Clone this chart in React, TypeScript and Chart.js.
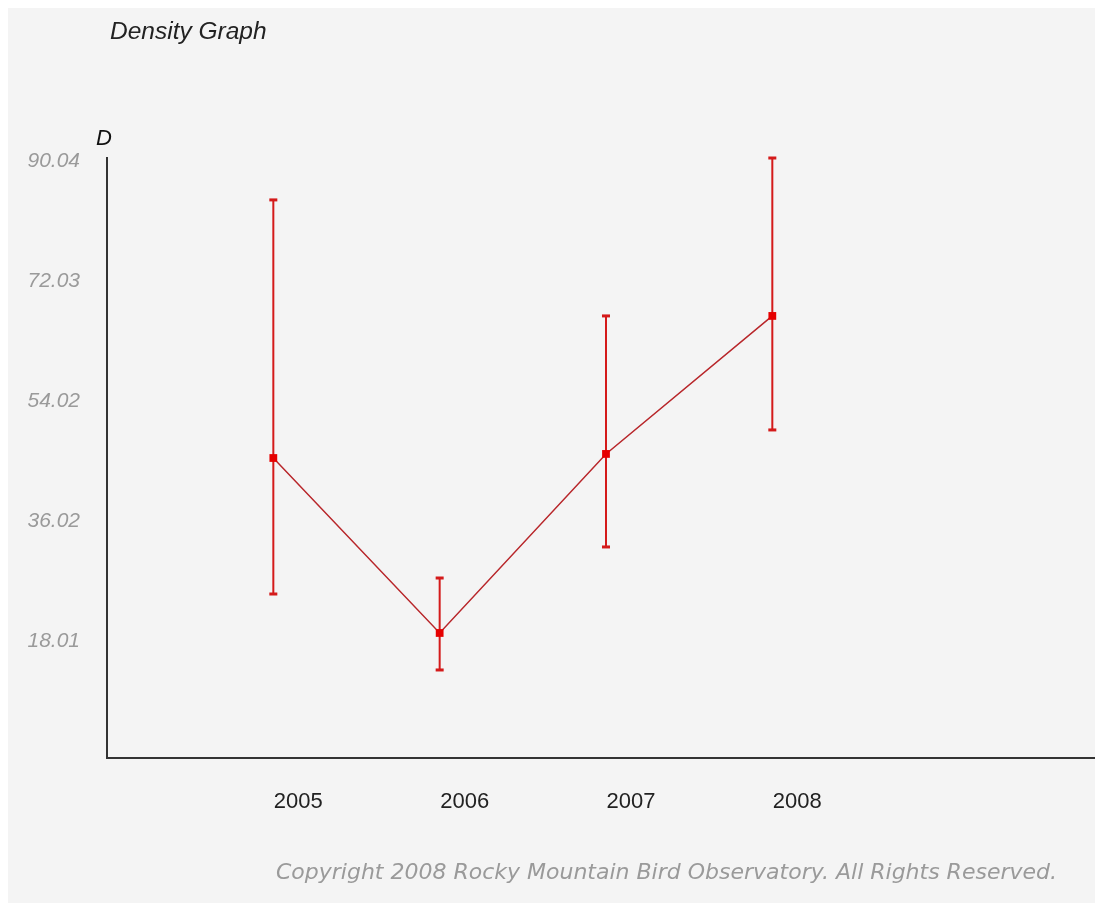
import React, { useEffect, useRef } from "react";
import { Chart, registerables } from "chart.js";

Chart.register(...registerables);

const years = ["2005", "2006", "2007", "2008"];
const density = [45.02, 18.76, 45.63, 66.34];
const upperCI = [83.75, 27.01, 66.34, 90.04];
const lowerCI = [24.61, 13.21, 31.67, 49.23];
const yTickValues = [18.01, 36.02, 54.02, 72.03, 90.04];
const yTickLabels = ["18.01", "36.02", "54.02", "72.03", "90.04"];

const titleText = "Density Graph";
const yAxisTitle = "D";
const copyrightText = "Copyright 2008 Rocky Mountain Bird Observatory. All Rights Reserved.";

const CANVAS_W = 1140;
const CANVAS_H = 940;

export default function App() {
  const ref = useRef<HTMLCanvasElement | null>(null);

  useEffect(() => {
    if (!ref.current) return;

    const errorBars = {
      id: "errorBars",
      beforeDatasetsDraw(chart: any) {
        const ctx = chart.ctx;
        const xs = chart.scales.x;
        const ys = chart.scales.y;
        ctx.save();
        ctx.strokeStyle = "#d41a1a";
        ctx.fillStyle = "#d41a1a";
        ctx.lineWidth = 2;
        for (let i = 0; i < years.length; i++) {
          const x = xs.getPixelForValue(i);
          const yt = ys.getPixelForValue(upperCI[i]);
          const yb = ys.getPixelForValue(lowerCI[i]);
          ctx.beginPath();
          ctx.moveTo(x, yt);
          ctx.lineTo(x, yb);
          ctx.stroke();
          ctx.fillRect(x - 4, yt - 1.5, 8, 3);
          ctx.fillRect(x - 4, yb - 1.5, 8, 3);
        }
        ctx.restore();
      },
    };

    const texts = {
      id: "texts",
      afterDraw(chart: any) {
        const ctx = chart.ctx;
        ctx.save();
        ctx.textBaseline = "middle";
        ctx.textAlign = "left";
        ctx.fillStyle = "#222";
        ctx.font = "italic 24.5px 'Liberation Sans', Arial, sans-serif";
        ctx.fillText(titleText, 102, 24);
        ctx.fillStyle = "#111";
        ctx.font = "italic 22px 'Liberation Sans', Arial, sans-serif";
        ctx.textAlign = "center";
        ctx.fillText(yAxisTitle, chart.chartArea.left - 3, chart.chartArea.top - 19);
        ctx.fillStyle = "#9a9a9a";
        ctx.font = "italic 22px 'DejaVu Sans', Verdana, sans-serif";
        ctx.textAlign = "right";
        ctx.fillText(copyrightText, 1049, 865);
        ctx.restore();
      },
    };

    const chart = new Chart(ref.current, {
      type: "line",
      data: {
        datasets: [
          {
            label: "Density",
            data: density.map((v, i) => ({ x: i, y: v })),
            borderColor: "#b8262a",
            borderWidth: 1.5,
            pointStyle: "rect",
            pointRadius: 5.5,
            pointBackgroundColor: "#e60000",
            pointBorderColor: "#e60000",
            pointBorderWidth: 0,
            tension: 0,
          },
        ],
      },
      options: {
        animation: false,
        responsive: false,
        layout: { padding: { top: 150, right: CANVAS_W - 1087, bottom: CANVAS_H - 895, left: 0 } },
        plugins: {
          legend: { display: false },
          tooltip: { enabled: false },
        },
        scales: {
          x: {
            type: "linear",
            min: -1,
            max: 4.94,
            afterBuildTicks: (scale: any) => {
              scale.ticks = years.map((_, i) => ({ value: i }));
            },
            afterFit: (scale: any) => {
              scale.height = 145;
            },
            grid: { display: false, drawTicks: false },
            border: { display: true, color: "#333", width: 2 },
            ticks: {
              autoSkip: false,
              maxRotation: 0,
              padding: 31,
              labelOffset: 25,
              color: "#222",
              font: { family: "'Liberation Sans', Arial, sans-serif", size: 22 },
              callback: (v: any) => years[v as number] ?? "",
            },
          },
          y: {
            type: "linear",
            min: 0,
            max: 90.04,
            afterBuildTicks: (scale: any) => {
              scale.ticks = yTickValues.map((v) => ({ value: v }));
            },
            afterFit: (scale: any) => {
              scale.width = 99;
            },
            grid: { display: false, drawTicks: false },
            border: { display: true, color: "#333", width: 2 },
            ticks: {
              padding: 27,
              labelOffset: 3,
              color: "#9a9a9a",
              font: { family: "'Liberation Sans', Arial, sans-serif", size: 21, style: "italic" },
              callback: (_v: any, i: number) => yTickLabels[i],
            },
          },
        },
      },
      plugins: [errorBars, texts],
    });

    return () => chart.destroy();
  }, []);

  return (
    <div style={{ position: "fixed", left: 8, top: 8, width: CANVAS_W, height: CANVAS_H, overflow: "hidden" }}>
      <canvas
        ref={ref}
        width={CANVAS_W}
        height={CANVAS_H}
        style={{ display: "block", background: "#f4f4f4", width: CANVAS_W, height: CANVAS_H }}
      />
    </div>
  );
}
